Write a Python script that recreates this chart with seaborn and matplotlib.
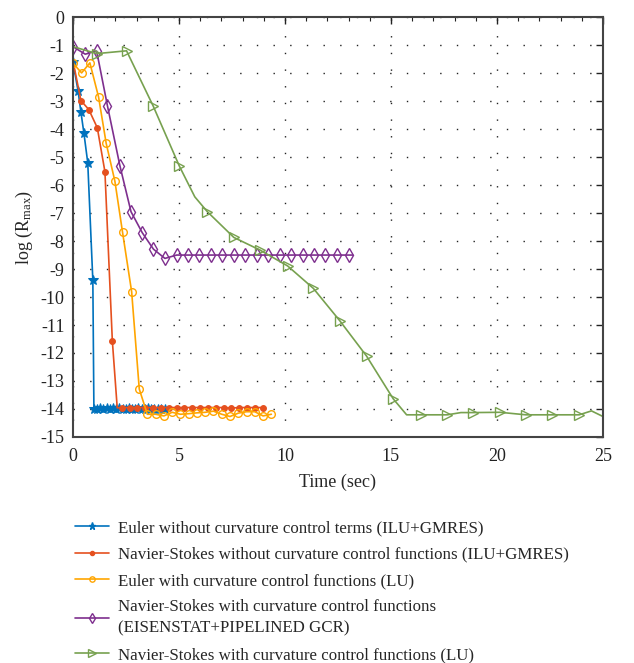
import numpy as np
import pandas as pd
import matplotlib
matplotlib.use("Agg")
import matplotlib.pyplot as plt
import seaborn as sns
from matplotlib.ticker import MultipleLocator, FixedLocator

sns.set_theme(style="white")
plt.rcParams['font.family'] = ['Liberation Serif', 'DejaVu Serif']
plt.rcParams['mathtext.fontset'] = 'custom'
plt.rcParams['mathtext.rm'] = 'Liberation Serif'
plt.rcParams['mathtext.it'] = 'Liberation Serif:italic'

# ---------------- data ----------------
labels = [
    "Euler without curvature control terms (ILU+GMRES)",
    "Navier-Stokes without curvature control functions (ILU+GMRES)",
    "Euler with curvature control functions (LU)",
    "Navier-Stokes with curvature control functions\n(EISENSTAT+PIPELINED GCR)",
    "Navier-Stokes with curvature control functions (LU)",
]
colors = ["#0072BD", "#E5501F", "#FFA500", "#7E2F8E", "#77A14F"]

euler_ilu_x = [0.0, 0.24, 0.38, 0.52, 0.70, 0.94, 0.99, 1.14, 1.29, 1.44, 1.59, 1.74,
               1.89, 2.04, 2.19, 2.34, 2.49, 2.64, 2.79, 2.94, 3.09, 3.24, 3.39,
               3.54, 3.69, 3.84, 3.99, 4.14, 4.34]
euler_ilu_y = [-1.6, -2.62, -3.4, -4.15, -5.2, -9.4, -14.0, -14.0, -13.98, -14.0, -13.98,
               -14.0, -13.98, -14.0, -13.98, -14.0, -14.0, -13.98, -14.0, -14.0, -13.98,
               -14.0, -14.0, -13.98, -14.0, -14.0, -14.0, -14.0, -14.0]

ns_ilu_x = [0.0, 0.38, 0.75, 1.15, 1.51, 1.86, 2.09, 2.30, 2.67, 3.04, 3.41, 3.78, 4.15,
            4.52, 4.89, 5.26, 5.63, 6.00, 6.37, 6.74, 7.11, 7.48, 7.85, 8.22, 8.59, 8.95]
ns_ilu_y = [-1.55, -2.98, -3.3, -3.95, -5.52, -11.57, -13.96, -13.95, -13.95, -13.95,
            -13.95, -13.95, -13.95, -13.95, -13.95, -13.95, -13.95, -13.95, -13.95, -13.95,
            -13.95, -13.97, -13.95, -13.95, -13.95, -13.95]
ns_ilu_mark = [False, True, True, True, True, True, False] + [True] * 19

euler_lu_x = [0.0, 0.41, 0.80, 1.21, 1.57, 1.98, 2.34, 2.77, 3.13, 3.51, 3.90, 4.29,
              4.68, 5.07, 5.46, 5.85, 6.24, 6.63, 7.02, 7.41, 7.80, 8.19, 8.58, 8.97, 9.36]
euler_lu_y = [-1.64, -1.99, -1.63, -2.85, -4.51, -5.86, -7.68, -9.81, -13.29, -14.19,
              -14.19, -14.25, -14.12, -14.19, -14.17, -14.14, -14.12, -14.08, -14.19,
              -14.27, -14.15, -14.1, -14.1, -14.25, -14.19]

ns_eis_x = [0.0, 0.58, 1.12, 1.63, 2.22, 2.74, 3.27, 3.80, 4.34, 4.89, 5.43, 5.97, 6.51,
            7.05, 7.59, 8.13, 8.67, 9.21, 9.75, 10.29, 10.83, 11.37, 11.91, 12.45, 13.0, 13.2]
ns_eis_y = [-1.05, -1.32, -1.21, -3.17, -5.32, -6.95, -7.7, -8.29, -8.62, -8.5, -8.5,
            -8.5, -8.5, -8.5, -8.5, -8.5, -8.5, -8.5, -8.5, -8.5, -8.5, -8.5, -8.5,
            -8.5, -8.5, -8.5]
ns_eis_mark = [True] * 25 + [False]

ns_lu_x = [0.0, 1.13, 2.53, 3.79, 5.02, 5.75, 6.34, 7.59, 8.82, 10.13, 11.34, 12.59,
           13.85, 15.11, 15.74, 16.40, 17.66, 18.30, 18.88, 20.14, 21.37, 22.61, 23.88,
           24.46, 25.0]
ns_lu_y = [-1.05, -1.3, -1.2, -3.18, -5.32, -6.42, -6.95, -7.87, -8.32, -8.89, -9.69,
           -10.85, -12.11, -13.64, -14.21, -14.21, -14.21, -14.13, -14.13, -14.12, -14.21,
           -14.21, -14.21, -14.07, -14.27]
ns_lu_mark = [False, True, True, True, True, False, True, True, True, True, True, True,
              True, True, False, True, True, False, True, True, True, True, True, False, False]

x_ticks = [0, 5, 10, 15, 20, 25]
y_ticks = list(range(-15, 1))

series = [
    (euler_ilu_x, euler_ilu_y, None, "*", dict(ms=7.5, mfc=colors[0], mec=colors[0])),
    (ns_ilu_x, ns_ilu_y, ns_ilu_mark, "o", dict(ms=4.2, mfc=colors[1], mec=colors[1])),
    (euler_lu_x, euler_lu_y, None, "o", dict(ms=5.5, mfc="none", mec=colors[2], mew=1.0)),
    (ns_eis_x, ns_eis_y, ns_eis_mark, "d", dict(ms=7.0, mfc="none", mec=colors[3], mew=1.0)),
    (ns_lu_x, ns_lu_y, ns_lu_mark, ">", dict(ms=7.5, mfc="none", mec=colors[4], mew=1.0)),
]

fig = plt.figure(figsize=(6.34, 6.63), dpi=100)
ax = fig.add_axes([0.115, 0.341, 0.836, 0.633])

handles = []
for i, (xs, ys, mk, m, kw) in enumerate(series):
    df = pd.DataFrame({"x": xs, "y": ys})
    me = [j for j, v in enumerate(mk) if v] if mk is not None else None
    sns.lineplot(data=df, x="x", y="y", sort=False, estimator=None, ax=ax,
                 color=colors[i], lw=1.2, marker=m, markevery=me, label=None, **kw)
    h, = ax.plot([], [], color=colors[i], lw=1.2, marker=m,
                 **{k: v for k, v in kw.items() if k != 'ms'},
                 ms=kw['ms'] * 0.7)
    handles.append(h)

ax.set_xlim(0, 25)
ax.set_ylim(-15, 0)
ax.xaxis.set_major_locator(FixedLocator(x_ticks))
ax.xaxis.set_minor_locator(MultipleLocator(1))
ax.yaxis.set_major_locator(FixedLocator(y_ticks))
ax.set_xticklabels([str(t) for t in x_ticks])
ax.set_yticklabels([str(t).replace("\u2212", "-") for t in y_ticks])
ax.tick_params(which="both", direction="in", top=True, right=True,
               labelsize=13, colors="#222222")
ax.tick_params(which="major", length=5, width=1.0)
ax.tick_params(which="minor", length=3, width=0.8)
ax.tick_params(axis="x", pad=8)
ax.tick_params(axis="y", pad=6)

ax.grid(True, which="major", color="#222222", lw=1.0, ls=(0, (1, 11)))
for s in ax.spines.values():
    s.set_color("#444444")
    s.set_linewidth(1.5)

ax.set_xlabel("Time (sec)", fontsize=13, labelpad=6)
ax.set_ylabel(r"log (R$_{\mathrm{max}}$)", fontsize=13, labelpad=4)

ax.get_legend() and ax.get_legend().remove()
leg = fig.legend(handles, labels, loc="upper left", bbox_to_anchor=(0.108, 0.226),
                 frameon=False, fontsize=12.2, handlelength=2.0, handletextpad=0.55,
                 labelspacing=0.62, borderaxespad=0)
for t in leg.get_texts():
    t.set_linespacing(1.45)

fig.savefig("out.png", dpi=100, facecolor="white")
